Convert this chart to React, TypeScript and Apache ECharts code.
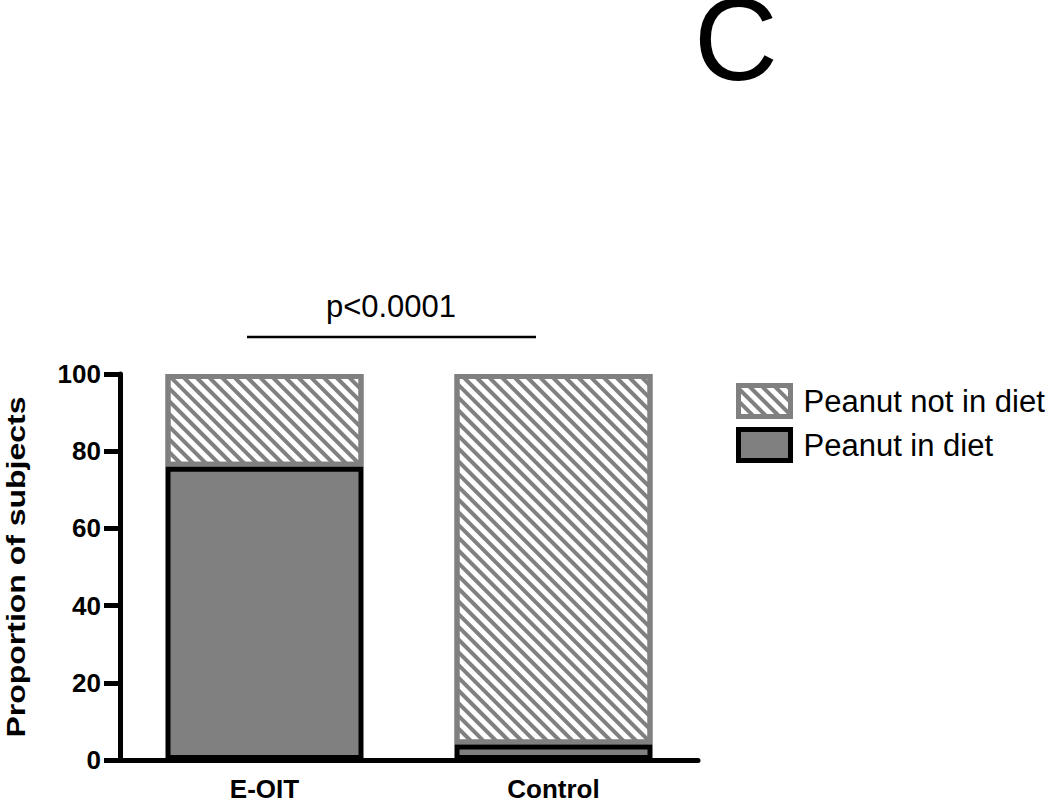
import React, { useEffect, useRef } from "react";
import * as echarts from "echarts";

const categories = ["E-OIT", "Control"];
const peanutInDiet = [76, 4];
const peanutNotInDiet = [24, 96];
const yTicks = { min: 0, max: 100, interval: 20 };
const pLabel = "p<0.0001";
const panelLabel = "C";
const yName = "Proportion of subjects";

const FONT = "'Liberation Sans', Arial, sans-serif";

export default function App() {
  const ref = useRef<HTMLDivElement>(null);
  useEffect(() => {
    if (!ref.current) return;
    const chart = echarts.init(ref.current, null, { renderer: "svg" });
    const hatchDecal = {
      symbol: "rect",
      symbolSize: 1,
      color: "#808080",
      dashArrayX: [1, 0],
      dashArrayY: [3.2, 4.2],
      rotation: Math.PI / 4,
    };
    chart.setOption({
      animation: false,
      backgroundColor: "#ffffff",
      textStyle: { fontFamily: FONT },
      grid: { left: 120, right: 352, top: 374, bottom: 43, containLabel: false },
      legend: {
        orient: "vertical",
        left: 731,
        top: 378,
        itemWidth: 52,
        itemHeight: 31,
        itemGap: 8,
        icon: "rect",
        itemStyle: { borderWidth: 5 },
        data: ["Peanut not in diet", "Peanut in diet"],
        textStyle: { fontSize: 31, color: "#000", fontFamily: FONT, padding: [0, 0, 0, 8] },
        selectedMode: false,
      },
      xAxis: {
        type: "category",
        data: categories,
        axisLine: { lineStyle: { color: "#000", width: 5 } },
        axisTick: { alignWithLabel: true, length: 16, lineStyle: { color: "#000", width: 5 } },
        axisLabel: { fontSize: 26, fontWeight: "bold", color: "#000", margin: 16, fontFamily: FONT },
      },
      yAxis: {
        type: "value",
        min: yTicks.min,
        max: yTicks.max,
        interval: yTicks.interval,
        splitLine: { show: false },
        axisLine: { show: true, lineStyle: { color: "#000", width: 5 } },
        axisTick: { show: true, length: 16, lineStyle: { color: "#000", width: 5 } },
        axisLabel: { fontSize: 26, fontWeight: "bold", color: "#000", margin: 19, fontFamily: FONT },
      },
      series: [
        {
          name: "Peanut in diet",
          type: "bar",
          stack: "total",
          barWidth: 198,
          z: 3,
          data: peanutInDiet,
          itemStyle: { color: "#808080", borderColor: "#000", borderWidth: 5 },
        },
        {
          name: "Peanut not in diet",
          type: "bar",
          stack: "total",
          barWidth: 198,
          z: 2,
          data: peanutNotInDiet,
          itemStyle: { color: "#ffffff", borderColor: "#808080", borderWidth: 5, decal: hatchDecal },
        },
      ],
      graphic: [
        {
          type: "text",
          x: 736,
          y: 40,
          style: { text: panelLabel, fontSize: 116, lineHeight: 80, fontFamily: FONT, fill: "#000", textAlign: "center", textVerticalAlign: "middle" },
        },
        {
          type: "text",
          x: 391,
          y: 306,
          style: { text: pLabel, fontSize: 31, fontFamily: FONT, fill: "#000", textAlign: "center", textVerticalAlign: "middle" },
        },
        {
          type: "line",
          shape: { x1: 247, y1: 337, x2: 536, y2: 337 },
          style: { stroke: "#000", lineWidth: 2.5 },
        },
        {
          type: "text",
          x: 16,
          y: 567,
          rotation: Math.PI / 2,
          scaleX: 1.23,
          style: { text: yName, fontSize: 26, fontWeight: "bold", fontFamily: FONT, fill: "#000", textAlign: "center", textVerticalAlign: "middle" },
        },
      ],
    });
    return () => chart.dispose();
  }, []);
  return <div ref={ref} style={{ position: "absolute", left: 0, top: 0, width: 1050, height: 803 }} />;
}
